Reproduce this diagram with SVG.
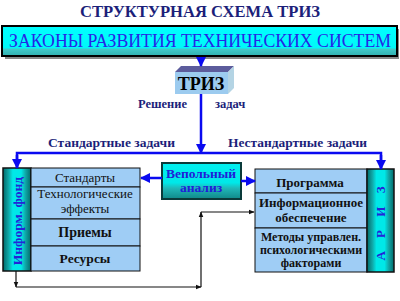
<svg xmlns="http://www.w3.org/2000/svg" width="400" height="301" viewBox="0 0 400 301" font-family="Liberation Serif, DejaVu Serif, serif">
<defs>
<style>
.navy{fill:#1c1f7a;font-weight:bold}
.item{fill:#9fcdf5;stroke:#111;stroke-width:1}
.itxt{fill:#111;text-anchor:middle;font-weight:bold}
.blue{stroke:#0a0af0;stroke-width:2.5;fill:none}
.blk{stroke:#111;stroke-width:1.2;fill:none}
</style>
<linearGradient id="colg" x1="0" y1="0" x2="1" y2="0">
<stop offset="0" stop-color="#006a6a"/>
<stop offset="0.2" stop-color="#10a8a8"/>
<stop offset="0.35" stop-color="#00e8e8"/>
<stop offset="0.65" stop-color="#00e8e8"/>
<stop offset="0.8" stop-color="#10a8a8"/>
<stop offset="1" stop-color="#006a6a"/>
</linearGradient>
<linearGradient id="vepg" x1="0" y1="0" x2="0" y2="1">
<stop offset="0" stop-color="#00f0f0"/>
<stop offset="0.55" stop-color="#00e8e8"/>
<stop offset="0.7" stop-color="#20b8b8"/>
<stop offset="1" stop-color="#108888"/>
</linearGradient>
<linearGradient id="lawg" x1="0" y1="0" x2="0" y2="1">
<stop offset="0" stop-color="#00ffff"/>
<stop offset="0.72" stop-color="#00f8f8"/>
<stop offset="0.78" stop-color="#40c8c8"/>
<stop offset="1" stop-color="#30b0b0"/>
</linearGradient>
<marker id="ab" viewBox="0 0 10 10" refX="9" refY="5" markerWidth="4" markerHeight="4" orient="auto"><path d="M0,0 L10,5 L0,10 z" fill="#0a0af0"/></marker>
<marker id="ak" viewBox="0 0 10 10" refX="9" refY="5" markerWidth="5" markerHeight="5" orient="auto"><path d="M0,1 L10,5 L0,9 z" fill="#111"/></marker>
</defs>
<rect width="400" height="301" fill="#fff"/>

<g id="title">
<text class="navy" x="200" y="17" font-size="16" text-anchor="middle" textLength="240" lengthAdjust="spacingAndGlyphs">СТРУКТУРНАЯ СХЕМА ТРИЗ</text>
</g>

<g id="laws">
<rect x="5" y="29" width="394" height="30" fill="#888"/>
<rect x="2" y="26" width="395" height="30" fill="url(#lawg)" stroke="#000" stroke-width="2"/>
<text x="200" y="47" font-size="18" fill="#2626e6" text-anchor="middle" textLength="382" lengthAdjust="spacingAndGlyphs">ЗАКОНЫ РАЗВИТИЯ ТЕХНИЧЕСКИХ СИСТЕМ</text>
</g>

<g id="triz">
<polygon points="175,72 181,66 234,66 228,72" fill="#5c5c9c"/>
<polygon points="228,72 234,66 234,88 228,94" fill="#b4d4e4"/>
<rect x="175" y="72" width="53" height="22" fill="#9ccbef"/>
<text x="201" y="90" font-size="18" font-weight="bold" fill="#000" text-anchor="middle">ТРИЗ</text>
</g>

<g id="labels">
<text class="navy" x="187" y="108" font-size="12.5" text-anchor="end">Решение</text>
<text class="navy" x="215" y="108" font-size="12.5">задач</text>
<text class="navy" x="48" y="147" font-size="12.5" textLength="127" lengthAdjust="spacingAndGlyphs">Стандартные задачи</text>
<text class="navy" x="228" y="147" font-size="12.5" textLength="139" lengthAdjust="spacingAndGlyphs">Нестандартные задачи</text>
</g>

<g id="inform-fond">
<rect x="3" y="168" width="28" height="103" fill="url(#colg)" stroke="#111" stroke-width="1.5"/>
<text transform="translate(22,221) rotate(-90)" font-size="13.5" font-weight="bold" fill="#2424d8" text-anchor="middle">Информ. фонд</text>
</g>

<g id="left-items">
<rect class="item" x="31" y="168" width="109" height="19"/>
<text x="85" y="182" font-size="13" fill="#111" text-anchor="middle">Стандарты</text>
<rect class="item" x="31" y="187" width="109" height="32"/>
<text x="85" y="198" font-size="13" fill="#111" text-anchor="middle">Технологические</text>
<text x="85" y="213" font-size="13" fill="#111" text-anchor="middle">эффекты</text>
<rect class="item" x="31" y="219" width="109" height="27"/>
<text class="itxt" x="85" y="237" font-size="14">Приемы</text>
<rect class="item" x="31" y="246" width="109" height="25"/>
<text class="itxt" x="85" y="263" font-size="13.5">Ресурсы</text>
</g>

<g id="vepol">
<rect x="162" y="163" width="79" height="36" fill="url(#vepg)" stroke="#0a3a3a" stroke-width="2"/>
<text x="201" y="178" font-size="13.5" font-weight="bold" fill="#2020d8" text-anchor="middle">Вепольный</text>
<text x="201" y="192" font-size="13.5" font-weight="bold" fill="#2020d8" text-anchor="middle">анализ</text>
</g>

<g id="right-items">
<rect class="item" x="255" y="169" width="112" height="24"/>
<text class="itxt" x="310" y="187" font-size="13">Программа</text>
<rect class="item" x="255" y="193" width="112" height="35"/>
<text class="itxt" x="311" y="207" font-size="13">Информационное</text>
<text class="itxt" x="311" y="222" font-size="13">обеспечение</text>
<rect class="item" x="255" y="228" width="112" height="44"/>
<text class="itxt" x="311" y="241" font-size="12">Методы управлен.</text>
<text class="itxt" x="311" y="254" font-size="12">психологическими</text>
<text class="itxt" x="311" y="267" font-size="12">факторами</text>
</g>

<g id="ariz">
<rect x="367" y="169" width="27" height="103" fill="url(#colg)" stroke="#111" stroke-width="1.5"/>
<text transform="translate(385,221) rotate(-90)" font-size="13" font-weight="bold" fill="#2424d8" text-anchor="middle" letter-spacing="5">А Р И З</text>
</g>

<g id="connectors">
<line class="blue" x1="201" y1="57" x2="201" y2="66" marker-end="url(#ab)"/>
<line class="blue" x1="201" y1="94" x2="201" y2="153" marker-end="url(#ab)"/>
<polyline class="blue" points="17,168 17,153 381,153 381,168"/>
<line class="blue" x1="17" y1="155" x2="17" y2="168" marker-end="url(#ab)"/>
<line class="blue" x1="381" y1="155" x2="381" y2="169" marker-end="url(#ab)"/>
<line class="blue" x1="162" y1="178" x2="141" y2="178" marker-end="url(#ab)"/>
<line class="blue" x1="241" y1="181" x2="255" y2="181" marker-end="url(#ab)"/>
<line class="blk" x1="16" y1="271" x2="16" y2="287" marker-end="url(#ak)"/>
<line class="blk" x1="16" y1="287" x2="201" y2="287" marker-end="url(#ak)"/>
<line class="blk" x1="201" y1="287" x2="201" y2="212" marker-end="url(#ak)"/>
<line class="blk" x1="201" y1="212" x2="254" y2="212" marker-end="url(#ak)"/>
</g>
</svg>
